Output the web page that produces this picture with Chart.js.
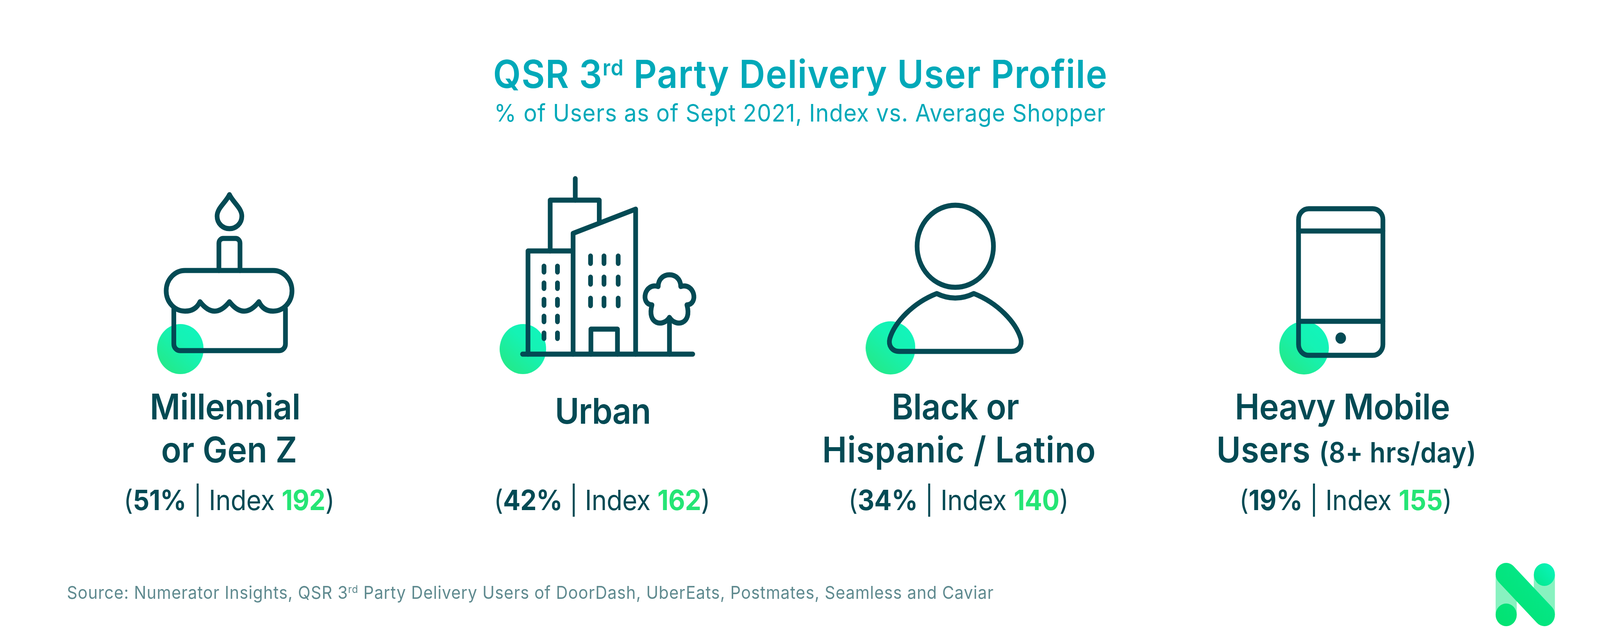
<!DOCTYPE html>
<html>
<head>
<meta charset="utf-8">
<title>QSR 3rd Party Delivery User Profile</title>
<script src="https://cdn.jsdelivr.net/npm/chart.js@4"></script>
<style>
    html, body { margin: 0; padding: 0; background: #fff; overflow: hidden; }
    #wrap { position: relative; width: 100vw; height: 100vh; }
    canvas { display: block; }
</style>
</head>
<body>
<div id="wrap"><canvas id="chart"></canvas></div>
<script>
// Data
const titleText = 'QSR 3';
const titleSup = 'rd';
const titleRest = ' Party Delivery User Profile';
const subtitleText = '% of Users as of Sept 2021, Index vs. Average Shopper';
const sourceText = 'Source: Numerator Insights, QSR 3';
const sourceSup = 'rd';
const sourceRest = ' Party Delivery Users of DoorDash, UberEats, Postmates, Seamless and Caviar';
const labelLines = [
    ['Millennial', 'or Gen Z'],
    ['Urban'],
    ['Black or', 'Hispanic / Latino'],
    ['Heavy Mobile', 'Users ']
];
const labelNote = '(8+ hrs/day)';
const userPct = [51, 42, 34, 19];
const indexValues = [192, 162, 140, 155];

// Layout, in pixels of the 4400x1645 reference. The window may be narrower,
// so everything is stretched by chart.width / 4400.
const WIDTH = 4400;
const HEIGHT = 1645;
const dotX = [496, 1438, 2449, 3586];
const dotY = [893, 893, 890, 890];
const dotSize = [64, 64, 68, 68];
const labelExtents = [
    [[412, 826], [443, 817]],
    [[1526, 1789]],
    [[2452, 2802], [2261, 3014]],
    [[3396, 3987], [3345, 4060]]
];
const statExtents = [[340, 920], [1358, 1953], [2333, 2939], [3408, 3993]];

const FONT = 'Inter, sans-serif';
const INK = '#034a54';
const TEAL = '#00a9b9';
const GREEN = '#25e575';
const GREY = '#5f8a8f';

// Draw a line made of several styled runs, tracked to fill left..right
function drawRuns(ctx, runs, left, right, baseline) {
    ctx.textAlign = 'left';
    ctx.textBaseline = 'alphabetic';
    ctx.letterSpacing = '0px';
    let natural = 0;
    let chars = 0;
    runs.forEach(run => {
        ctx.font = run.font;
        natural += ctx.measureText(run.text).width;
        chars += run.text.length;
    });
    const spacing = (right - left - natural) / chars;
    ctx.letterSpacing = spacing + 'px';
    let x = left;
    runs.forEach(run => {
        ctx.font = run.font;
        ctx.fillStyle = run.color;
        ctx.fillText(run.text, x, baseline - (run.rise || 0));
        x += ctx.measureText(run.text).width;
    });
    ctx.letterSpacing = '0px';
}

function line(ctx, x1, y1, x2, y2) {
    ctx.beginPath();
    ctx.moveTo(x1, y1);
    ctx.lineTo(x2, y2);
    ctx.stroke();
}

function drawCake(ctx) {
    // Flame
    ctx.beginPath();
    ctx.moveTo(631, 498);
    ctx.bezierCurveTo(621, 518, 597, 532, 597, 553);
    ctx.bezierCurveTo(597, 572, 613, 585, 631, 585);
    ctx.bezierCurveTo(649, 585, 665, 572, 665, 553);
    ctx.bezierCurveTo(665, 532, 641, 518, 631, 498);
    ctx.closePath();
    ctx.stroke();
    // Candle
    ctx.beginPath();
    ctx.moveTo(602, 692);
    ctx.lineTo(602, 622);
    ctx.arcTo(602, 610, 614, 610, 12);
    ctx.lineTo(648, 610);
    ctx.arcTo(660, 610, 660, 622, 12);
    ctx.lineTo(660, 692);
    ctx.stroke();
    // Icing
    ctx.beginPath();
    ctx.moveTo(509, 692);
    ctx.lineTo(751, 692);
    ctx.arc(751, 744, 52, -Math.PI / 2, Math.PI / 2);
    ctx.quadraticCurveTo(724, 796, 712, 772);
    ctx.quadraticCurveTo(671, 820, 631, 772);
    ctx.quadraticCurveTo(590, 820, 550, 772);
    ctx.quadraticCurveTo(538, 796, 509, 796);
    ctx.arc(509, 744, 52, Math.PI / 2, Math.PI * 1.5);
    ctx.closePath();
    ctx.stroke();
    // Cake body
    ctx.beginPath();
    ctx.moveTo(478, 790);
    ctx.lineTo(478, 880);
    ctx.arcTo(478, 897, 495, 897, 17);
    ctx.lineTo(768, 897);
    ctx.arcTo(785, 897, 785, 880, 17);
    ctx.lineTo(785, 790);
    ctx.stroke();
}

function drawCity(ctx) {
    line(ctx, 1582, 457, 1582, 512);
    // Tall tower
    ctx.beginPath();
    ctx.moveTo(1513, 642);
    ctx.lineTo(1513, 512);
    ctx.lineTo(1648, 512);
    ctx.lineTo(1648, 565);
    ctx.stroke();
    // Left block
    ctx.beginPath();
    ctx.moveTo(1452, 906);
    ctx.lineTo(1452, 642);
    ctx.lineTo(1576, 642);
    ctx.stroke();
    // Slanted block
    ctx.beginPath();
    ctx.moveTo(1576, 906);
    ctx.lineTo(1576, 597);
    ctx.lineTo(1748, 535);
    ctx.lineTo(1748, 906);
    ctx.stroke();
    // Door
    ctx.beginPath();
    ctx.moveTo(1625, 906);
    ctx.lineTo(1625, 842);
    ctx.lineTo(1698, 842);
    ctx.lineTo(1698, 906);
    ctx.stroke();
    // Windows
    [1624, 1661, 1700].forEach(x => {
        [[655, 674], [709, 727], [763, 782]].forEach(r => line(ctx, x, r[0], x, r[1]));
    });
    [1496, 1533].forEach(x => {
        [[681, 696], [724, 738], [766, 781], [809, 823], [852, 866]].forEach(r => line(ctx, x, r[0], x, r[1]));
    });
    // Tree
    ctx.beginPath();
    ctx.moveTo(1810, 733);
    ctx.bezierCurveTo(1810, 693, 1872, 693, 1872, 733);
    ctx.bezierCurveTo(1910, 722, 1922, 778, 1889, 780);
    ctx.bezierCurveTo(1904, 830, 1858, 838, 1841, 812);
    ctx.bezierCurveTo(1824, 838, 1778, 830, 1793, 780);
    ctx.bezierCurveTo(1760, 778, 1772, 722, 1810, 733);
    ctx.closePath();
    ctx.stroke();
    line(ctx, 1841, 818, 1841, 906);
    line(ctx, 1437, 906, 1905, 906);
}

function drawPerson(ctx) {
    ctx.beginPath();
    ctx.arc(2627, 630, 105, 0, Math.PI * 2);
    ctx.stroke();
    ctx.beginPath();
    ctx.moveTo(2576, 751);
    ctx.quadraticCurveTo(2627, 774, 2678, 751);
    ctx.bezierCurveTo(2744, 775, 2794, 825, 2807, 866);
    ctx.bezierCurveTo(2812, 884, 2801, 899, 2781, 899);
    ctx.lineTo(2473, 899);
    ctx.bezierCurveTo(2453, 899, 2442, 884, 2447, 866);
    ctx.bezierCurveTo(2460, 825, 2510, 775, 2576, 751);
    ctx.closePath();
    ctx.stroke();
}

function drawPhone(ctx) {
    ctx.beginPath();
    ctx.roundRect(3571, 534, 232, 375, 28);
    ctx.stroke();
    line(ctx, 3571, 591, 3803, 591);
    line(ctx, 3571, 822, 3803, 822);
    ctx.beginPath();
    ctx.arc(3687, 865, 14.5, 0, Math.PI * 2);
    ctx.fillStyle = INK;
    ctx.fill();
}

function drawLogo(ctx) {
    ctx.fillStyle = '#88f2c0';
    ctx.fillRect(4113, 1469, 58, 104);
    ctx.fillRect(4218, 1470, 58, 103);
    const fade = ctx.createLinearGradient(4113, 1602, 4276, 1441);
    fade.addColorStop(0, '#03e270');
    fade.addColorStop(0.6, '#04e684');
    fade.addColorStop(1, '#0af5bf');
    ctx.fillStyle = fade;
    ctx.beginPath();
    ctx.arc(4142, 1573, 29, 0, Math.PI * 2);
    ctx.fill();
    ctx.beginPath();
    ctx.arc(4247, 1470, 29, 0, Math.PI * 2);
    ctx.fill();
    ctx.strokeStyle = fade;
    ctx.lineWidth = 58;
    ctx.lineCap = 'round';
    line(ctx, 4142, 1469, 4247, 1573);
}

// Icons and all the text go on top of the green dots
const infographic = {
    id: 'infographic',
    afterDatasetsDraw(chart) {
        const ctx = chart.ctx;
        ctx.save();
        ctx.scale(chart.width / WIDTH, chart.height / HEIGHT);
        ctx.strokeStyle = INK;
        ctx.lineWidth = 13;
        ctx.lineCap = 'round';
        ctx.lineJoin = 'round';
        drawCake(ctx);
        drawCity(ctx);
        drawPerson(ctx);
        drawPhone(ctx);
        drawLogo(ctx);

        const titleFont = '600 99px ' + FONT;
        drawRuns(ctx, [
            { text: titleText, font: titleFont, color: TEAL },
            { text: titleSup, font: '600 56px ' + FONT, color: TEAL, rise: 32 },
            { text: titleRest, font: titleFont, color: TEAL }
        ], 1356, 3046, 225);
        drawRuns(ctx, [{ text: subtitleText, font: '400 62px ' + FONT, color: TEAL }], 1359, 3041, 311);

        const labelFont = '600 91px ' + FONT;
        labelLines.forEach((lines, i) => {
            lines.forEach((text, j) => {
                const runs = [{ text, font: labelFont, color: INK }];
                if (text === 'Users ') {
                    runs.push({ text: labelNote, font: '600 71px ' + FONT, color: INK });
                }
                const ext = labelExtents[i][j];
                const baseline = lines.length === 1 ? 1084 : (j === 0 ? 1073 : 1183);
                drawRuns(ctx, runs, ext[0], ext[1], baseline);
            });
        });

        const regular = '400 71px ' + FONT;
        const strong = '700 71px ' + FONT;
        userPct.forEach((pct, i) => {
            drawRuns(ctx, [
                { text: '(', font: regular, color: INK },
                { text: pct + '%', font: strong, color: INK },
                { text: ' | Index ', font: regular, color: INK },
                { text: String(indexValues[i]), font: strong, color: GREEN },
                { text: ')', font: regular, color: INK }
            ], statExtents[i][0], statExtents[i][1], 1305);
        });

        const small = '400 45px ' + FONT;
        drawRuns(ctx, [
            { text: sourceText, font: small, color: GREY },
            { text: sourceSup, font: '400 27px ' + FONT, color: GREY, rise: 15 },
            { text: sourceRest, font: small, color: GREY }
        ], 184, 2733, 1532);
        ctx.restore();
    }
};

// Offscreen sprite for one green dot, stretched with the rest of the picture
function dotSprite(context) {
    const i = context.dataIndex;
    const r = dotSize[i];
    const sx = context.chart.width / WIDTH;
    const sy = context.chart.height / HEIGHT;
    const sprite = document.createElement('canvas');
    sprite.width = Math.round(2 * r * sx);
    sprite.height = Math.round(2 * r * sy);
    const g = sprite.getContext('2d');
    const grad = g.createLinearGradient(0, sprite.height, sprite.width, 0);
    grad.addColorStop(0, '#27e77f');
    grad.addColorStop(0.6, '#15f3b4');
    grad.addColorStop(1, '#10f5bf');
    g.fillStyle = grad;
    g.beginPath();
    g.ellipse(sprite.width / 2, sprite.height / 2, sprite.width / 2, sprite.height / 2, 0, 0, Math.PI * 2);
    g.fill();
    return sprite;
}

new Chart(document.getElementById('chart'), {
    type: 'scatter',
    data: {
        datasets: [{
            label: 'Profile markers',
            data: dotX.map((x, i) => ({ x, y: dotY[i] })),
            pointStyle: dotSprite,
            pointRadius: dotSize,
            pointBorderWidth: 0
        }]
    },
    options: {
        responsive: true,
        maintainAspectRatio: false,
        animation: false,
        events: [],
        layout: { padding: 0, autoPadding: false },
        scales: {
            x: { type: 'linear', display: false, min: 0, max: WIDTH },
            y: { type: 'linear', display: false, min: 0, max: HEIGHT, reverse: true }
        },
        plugins: {
            legend: { display: false },
            tooltip: { enabled: false }
        }
    },
    plugins: [infographic]
});
</script>
</body>
</html>
